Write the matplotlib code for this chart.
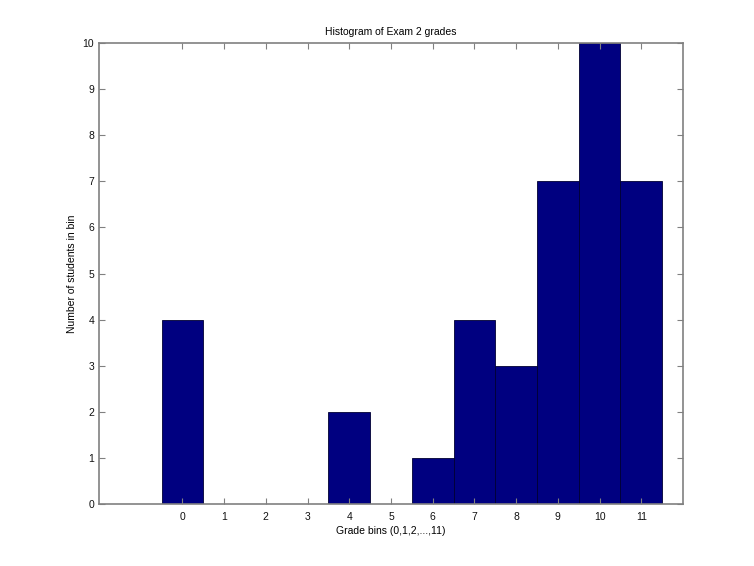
import matplotlib
matplotlib.use("Agg")
import matplotlib.pyplot as plt

bins = [0, 1, 2, 3, 4, 5, 6, 7, 8, 9, 10, 11]
counts = [4, 0, 0, 0, 2, 0, 1, 4, 3, 7, 10, 7]
yticks = [0, 1, 2, 3, 4, 5, 6, 7, 8, 9, 10]

plt.rcParams['font.family'] = ['Liberation Sans', 'DejaVu Sans']

fig = plt.figure(figsize=(7.54, 5.66), dpi=100)
ax = fig.add_axes([99/754, 1 - 504/566, (683 - 99)/754, (504 - 43)/566])
ax.bar(bins, counts, width=1.0, color='#000080', edgecolor='#000033', linewidth=0.6)
ax.set_xlim(-2, 12)
ax.set_ylim(0, 10)
ax.set_xticks(bins)
ax.set_yticks(yticks)
ax.tick_params(direction='in', top=True, right=True, labelsize=7.5, labelcolor='#111111',
               color='#808080', length=4, width=0.8)
ax.tick_params(axis='x', pad=6)
for sp in ax.spines.values():
    sp.set_color('#808080')
    sp.set_linewidth(1.2)
ax.set_title('Histogram of Exam 2 grades', fontsize=7.5, pad=6)
ax.set_xlabel('Grade bins (0,1,2,...,11)', fontsize=7.5, labelpad=3)
ax.set_ylabel('Number of students in bin', fontsize=7.5, labelpad=4)
fig.savefig('out.png', dpi=100)
